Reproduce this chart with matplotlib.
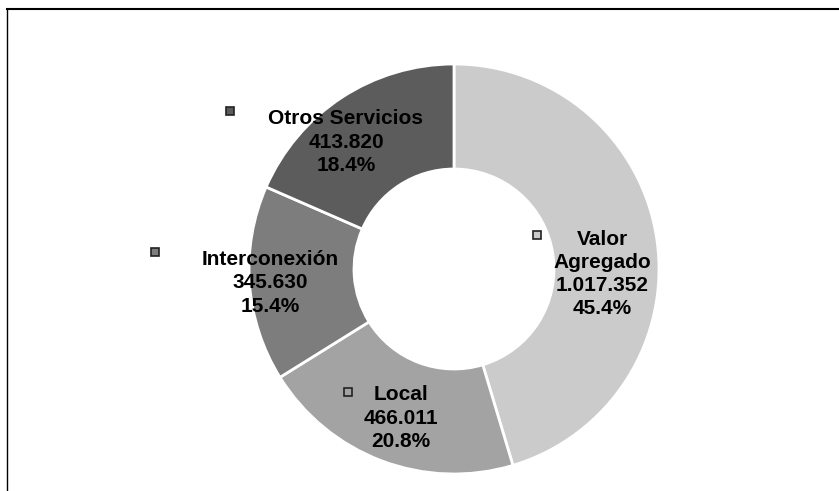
import matplotlib.pyplot as plt
from matplotlib.lines import Line2D

# data
categories = ["Valor\nAgregado", "Local", "Interconexión", "Otros Servicios"]
values = [1017352, 466011, 345630, 413820]
percents = [45.4, 20.8, 15.4, 18.4]  # as printed on the chart
colors = ["#cbcbcb", "#a3a3a3", "#7d7d7d", "#5c5c5c"]

# label block centres and marker spots (pixel coords, y from top)
label_pos = [(602, 274), (401, 418), (270, 283), (346, 142)]
marker_pos = [(537, 235), (348, 392), (155, 252), (230, 111)]

W, H = 839, 491
fig = plt.figure(figsize=(W / 100, H / 100), dpi=100)
ax = fig.add_axes([0, 0, 1, 1])

ax.pie(values, colors=colors, startangle=90, counterclock=False,
       center=(454, H - 269), radius=205,
       wedgeprops=dict(width=105, edgecolor="white", linewidth=2))

# pie() resets the limits, so set them afterwards
ax.set_xlim(0, W)
ax.set_ylim(0, H)
ax.set_aspect("equal")
ax.axis("off")

for cat, v, p, (lx, ly), (mx, my), c in zip(categories, values, percents, label_pos, marker_pos, colors):
    num = f"{v:,}".replace(",", ".")
    ax.text(lx, H - ly, f"{cat}\n{num}\n{p:.1f}%", ha="center", va="center",
            fontsize=15, fontweight="bold", family="Liberation Sans",
            linespacing=1.28, color="black")
    ax.plot(mx, H - my, marker="s", markersize=6, markerfacecolor=c,
            markeredgecolor="#222222", markeredgewidth=1.2)

# border of the chart area (right and bottom cut off)
fig.add_artist(Line2D([7 / W, 1], [1 - 9 / H, 1 - 9 / H], color="black", lw=1.5))
fig.add_artist(Line2D([7 / W, 7 / W], [0, 1 - 9 / H], color="black", lw=1))

fig.savefig("out.png", dpi=100)
